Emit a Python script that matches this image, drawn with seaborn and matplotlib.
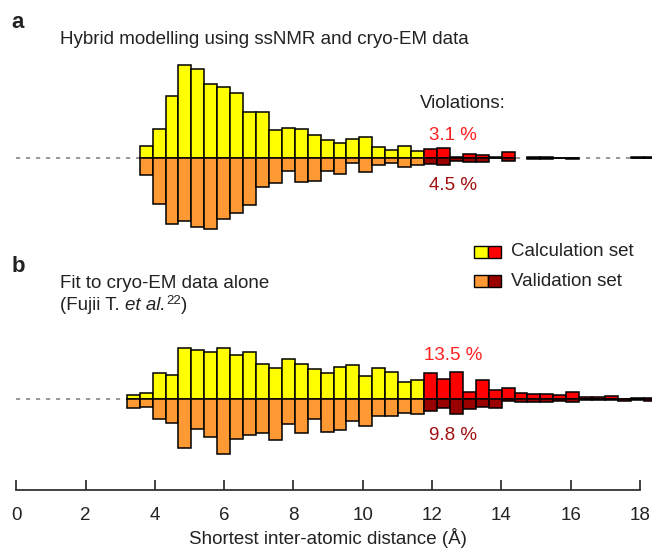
import matplotlib
matplotlib.use("Agg")
import matplotlib.pyplot as plt
import seaborn as sns
import numpy as np
import pandas as pd
from matplotlib.patches import Rectangle

sns.set_style("white")
plt.rcParams['font.family'] = ['Liberation Sans', 'DejaVu Sans']

# histogram bins (Å)
first_bin = 3.19
bin_width = 0.373
cutoff = 11.77  # violation threshold

# panel a: hybrid modelling (ssNMR + cryo-EM)
calc_a = [0, 11.7, 28.7, 61.7, 92.7, 88.3, 73.3, 70.3, 65, 45.3, 45.3, 27.3, 30, 29,
          22.7, 17.3, 15, 18.5, 21, 10.7, 7.5, 12, 6.7, 8.5, 9.5, 0.4, 3.5, 3, 0.3,
          5.5, 0, 0.3, 0.3, 0.2, 0.2, 0, 0, 0, 0, 0.3, 0.3]
valid_a = [0, 17.3, 46, 66.7, 63, 69.7, 71, 61, 55.7, 47.3, 29, 25.7, 13.7, 24.5,
           23, 13, 16, 5, 14.5, 7.7, 5.5, 9, 7.5, 6.3, 7.3, 3, 4, 4, 0.7,
           3, 0, 1.5, 1, 0.3, 1.2, 0, 0, 0, 0, 0.3, 0.3]

# panel b: cryo-EM only
calc_b = [4, 6.3, 26.3, 24.3, 51, 49, 46.7, 51, 43.7, 46.7, 35, 31.5, 40.3, 35,
          29.7, 26.3, 31.7, 34.5, 23.3, 30.7, 27.3, 16.7, 19, 25.7, 20, 26.7, 7.3,
          19, 9.3, 10.7, 6.5, 5.3, 5, 3.6, 6.7, 2.3, 2.3, 3.1, 0.3, 1.3, 1.3]
valid_b = [9.3, 8, 20.3, 23.7, 49.3, 30, 38.3, 55.3, 39.7, 36, 34.3, 41, 24.7, 34.3,
           20.3, 33, 31, 22.3, 26.7, 16.7, 16.7, 14, 15, 12.3, 9.3, 15.3, 9.7,
           7.7, 8.7, 1.8, 3, 3.3, 3, 2.3, 3, 0.8, 0.8, 0.5, 2, 1, 1.6]

colors = {"calc": "#ffff00", "calc_v": "#ff0000",
          "valid": "#ff9933", "valid_v": "#990000"}

W, H = 652, 548
FS = 13.5
fig = plt.figure(figsize=(W / 100, H / 100), dpi=100)

x0_px, px_per_A = 16.25, 34.65
xlim = (-x0_px / px_per_A, (W - x0_px) / px_per_A)
centers = first_bin + bin_width * (np.arange(len(calc_a)) + 0.5)


def panel(calc, valid, top, base, bottom):
    ax = fig.add_axes([0, 1 - bottom / H, 1, (bottom - top) / H])
    rows = []
    for x, c, v in zip(centers, calc, valid):
        viol = x > cutoff
        if c > 0:
            rows.append((x, c, "calc_v" if viol else "calc"))
        if v > 0:
            rows.append((x, -v, "valid_v" if viol else "valid"))
    df = pd.DataFrame(rows, columns=["x", "h", "kind"])
    ax.hlines(0, 0, xlim[1], colors="#888888", linestyles=(0, (2.5, 3.5)),
              lw=1.2, zorder=0)
    sns.barplot(data=df, x="x", y="h", hue="kind", palette=colors,
                hue_order=list(colors), native_scale=True, width=1, dodge=False,
                saturation=1, errorbar=None, edgecolor="black", linewidth=1.1,
                legend=False, ax=ax)
    ax.set_xlim(*xlim)
    ax.set_ylim(-(bottom - base), base - top)
    ax.set_xlabel("")
    ax.set_ylabel("")
    ax.set_yticks([])
    for s in ax.spines.values():
        s.set_visible(False)
    ax.patch.set_alpha(0)
    return ax


ax_a = panel(calc_a, valid_a, 50, 157.7, 240)
ax_a.set_xticks([])

ax_b = panel(calc_b, valid_b, 330, 399, 490)
ax_b.spines["bottom"].set_visible(True)
ax_b.spines["bottom"].set_bounds(0, 18)
ax_b.spines["bottom"].set_linewidth(1.2)
ax_b.spines["bottom"].set_color("#222222")
ax_b.set_xticks(range(0, 19, 2))
ax_b.set_xticklabels([str(t) for t in range(0, 19, 2)])
ax_b.tick_params(axis="x", direction="in", length=7, width=1.2, color="#222222",
                 labelsize=FS, pad=12, labelcolor="#222222", bottom=True)


def ftext(x, y, s, **kw):
    kw.setdefault("color", "#222222")
    kw.setdefault("fontsize", FS)
    kw.setdefault("va", "center")
    return fig.text(x / W, 1 - y / H, s, **kw)


ftext(18, 22, "a", fontweight="bold", fontsize=16, ha="center")
ftext(60, 40, "Hybrid modelling using ssNMR and cryo-EM data")
ftext(420, 104, "Violations:")
ftext(453, 136, "3.1 %", color="#ff2020", ha="center")
ftext(453, 186, "4.5 %", color="#a01010", ha="center")

ftext(18, 266, "b", fontweight="bold", fontsize=16, ha="center")
ftext(60, 283, "Fit to cryo-EM data alone")

# "(Fujii T. et al.22)" built piece by piece
renderer = fig.canvas.get_renderer()
xpos = 60
for piece, kw, dy in [("(Fujii T. ", {}, 0), ("et al.", {"style": "italic"}, 0),
                      ("22", {"fontsize": 9.5}, -5), (")", {}, 0)]:
    t = ftext(xpos, 306 + dy, piece, **kw)
    xpos += t.get_window_extent(renderer).width + (1 if piece == "et al." else 0)

ftext(453, 355, "13.5 %", color="#ff2020", ha="center")
ftext(453, 435, "9.8 %", color="#a01010", ha="center")

ftext(328, 538, "Shortest inter-atomic distance (Å)", ha="center")

# legend built from paired swatches
for y, c1, c2, label in [(252, colors["calc"], colors["calc_v"], "Calculation set"),
                         (281, colors["valid"], colors["valid_v"], "Validation set")]:
    for i, c in enumerate([c1, c2]):
        fig.add_artist(Rectangle(((474 + i * 13.5) / W, 1 - (y + 6) / H), 13.5 / W, 12 / H,
                                 transform=fig.transFigure, facecolor=c,
                                 edgecolor="black", lw=1.0))
    ftext(511, y, label)

fig.savefig("out.png", dpi=100)
